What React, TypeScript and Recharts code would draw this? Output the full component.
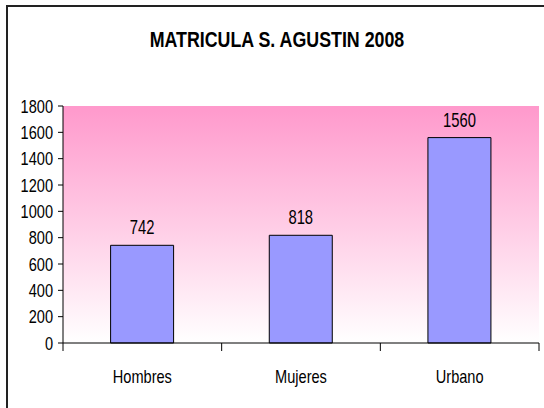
import React from 'react';
import { BarChart, Bar, XAxis, YAxis, CartesianGrid, LabelList } from 'recharts';

const categories = ['Hombres', 'Mujeres', 'Urbano'];
const values = [742, 818, 1560];
const yTicks = [0, 200, 400, 600, 800, 1000, 1200, 1400, 1600, 1800];
const title = 'MATRICULA S. AGUSTIN 2008';

const data = categories.map((c, i) => ({ name: c, value: values[i] }));

const FONT = '"Liberation Sans", Arial, sans-serif';
const NARROW = 0.81;

const NarrowText = ({ x, y, anchor, size, bold, scale, children }: any) => (
  <text
    transform={`translate(${x},${y}) scale(${scale || NARROW},1)`}
    x={0}
    y={0}
    textAnchor={anchor}
    fontSize={size}
    fontFamily={FONT}
    fontWeight={bold ? 'bold' : 'normal'}
    fill="#000"
  >
    {children}
  </text>
);

const XTick = (props: any) => {
  const { x, y, payload, index } = props;
  const off = payload && payload.offset ? payload.offset : 0;
  return (
    <g>
      <line x1={x + off} x2={x + off} y1={y} y2={y + 8} stroke="#000" />
      {index === 0 && <line x1={x - off} x2={x - off} y1={y} y2={y + 8} stroke="#000" />}
      <NarrowText x={x} y={y + 40} anchor="middle" size={18}>
        {payload.value}
      </NarrowText>
    </g>
  );
};

const YTick = (props: any) => {
  const { x, y, payload } = props;
  return (
    <NarrowText x={x} y={y + 6.5} anchor="end" size={18}>
      {payload.value}
    </NarrowText>
  );
};

const ValueLabel = (props: any) => {
  const { x, y, width, value } = props;
  return (
    <NarrowText x={x + width / 2} y={y - 11} anchor="middle" size={20} scale={0.74}>
      {value}
    </NarrowText>
  );
};

export default function App() {
  return (
    <div style={{ position: 'absolute', left: 0, top: 0, width: 544, height: 408, background: '#fff', overflow: 'hidden' }}>
      <div
        style={{
          position: 'absolute',
          left: 6,
          top: 5,
          width: 540,
          height: 410,
          borderTop: '2px solid #222',
          borderLeft: '2px solid #222',
        }}
      />
      <svg width={544} height={80} style={{ position: 'absolute', left: 0, top: 0 }}>
        <NarrowText x={277} y={47} anchor="middle" size={22} bold>
          {title}
        </NarrowText>
      </svg>
      <div style={{ position: 'absolute', left: 0, top: 0 }}>
        <BarChart
          width={544}
          height={408}
          data={data}
          margin={{ top: 106, right: 5, bottom: 35, left: 0 }}
          barCategoryGap="30%"
        >
          <defs>
            <linearGradient id="bgGrad" x1="0" y1="0" x2="0" y2="1">
              <stop offset="0%" stopColor="#FF99CC" />
              <stop offset="100%" stopColor="#FFFFFF" />
            </linearGradient>
          </defs>
          <CartesianGrid horizontal={false} vertical={false} fill="url(#bgGrad)" stroke="none" />
          <XAxis
            xAxisId="top"
            orientation="top"
            dataKey="name"
            axisLine={{ stroke: '#999', strokeWidth: 2 }}
            tick={false}
            tickLine={false}
            height={0}
          />
          <YAxis
            yAxisId="right"
            orientation="right"
            domain={[0, 1800]}
            axisLine={{ stroke: '#aaa', strokeWidth: 2 }}
            tick={false}
            tickLine={false}
            width={0}
          />
          <XAxis
            dataKey="name"
            height={30}
            axisLine={{ stroke: '#000' }}
            tickLine={false}
            tickSize={0}
            tickMargin={0}
            tick={<XTick />}
            interval={0}
          />
          <YAxis
            domain={[0, 1800]}
            ticks={yTicks}
            interval={0}
            axisLine={{ stroke: '#000' }}
            tickLine={{ stroke: '#000' }}
            tickSize={5}
            tickMargin={5}
            width={63}
            tick={<YTick />}
          />
          <Bar dataKey="value" fill="#9999FF" stroke="#000" strokeWidth={1} isAnimationActive={false}>
            <LabelList dataKey="value" content={<ValueLabel />} />
          </Bar>
        </BarChart>
      </div>
    </div>
  );
}
